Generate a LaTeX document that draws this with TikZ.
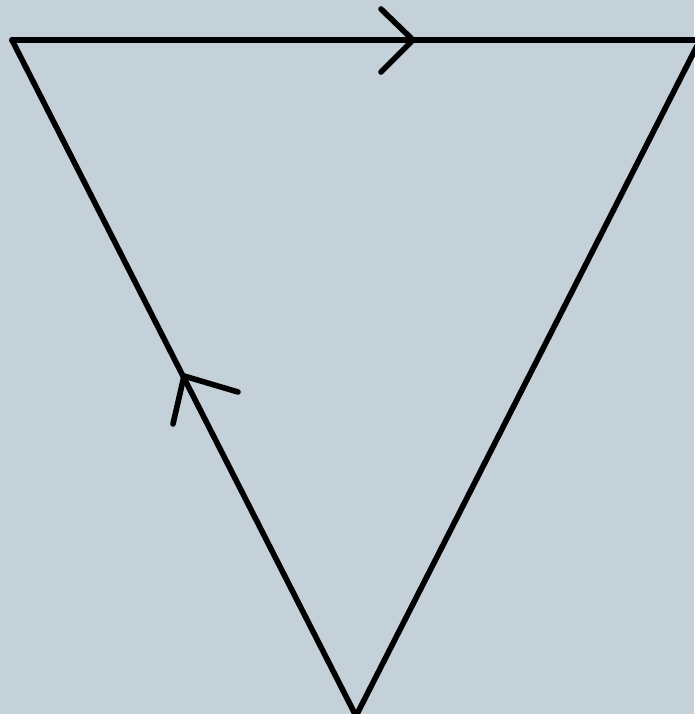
\documentclass[tikz,border=0pt]{standalone}
\usepackage{tikz}

\definecolor{bgblue}{HTML}{C5D1D8}

\begin{document}
\begin{tikzpicture}[x=0.02cm,y=-0.02cm,line width=3.2pt,line cap=round,line join=round]
\fill[bgblue] (0,0) rectangle (694,714);
\useasboundingbox (0,0) rectangle (694,714);

% corners of the triangle
\coordinate (tl) at (12,40);
\coordinate (tr) at (700,40);
\coordinate (bot) at (356,716);

\draw (tl) -- (tr);
\draw (tr) -- (bot);
\draw (bot) -- (tl);

% direction marks
\coordinate (tipA) at (413,40);
\coordinate (tipB) at (184,376);
\draw (381,9) -- (tipA) -- (381,72);
\draw (238,392) -- (tipB) -- (173,424);
\end{tikzpicture}
\end{document}
